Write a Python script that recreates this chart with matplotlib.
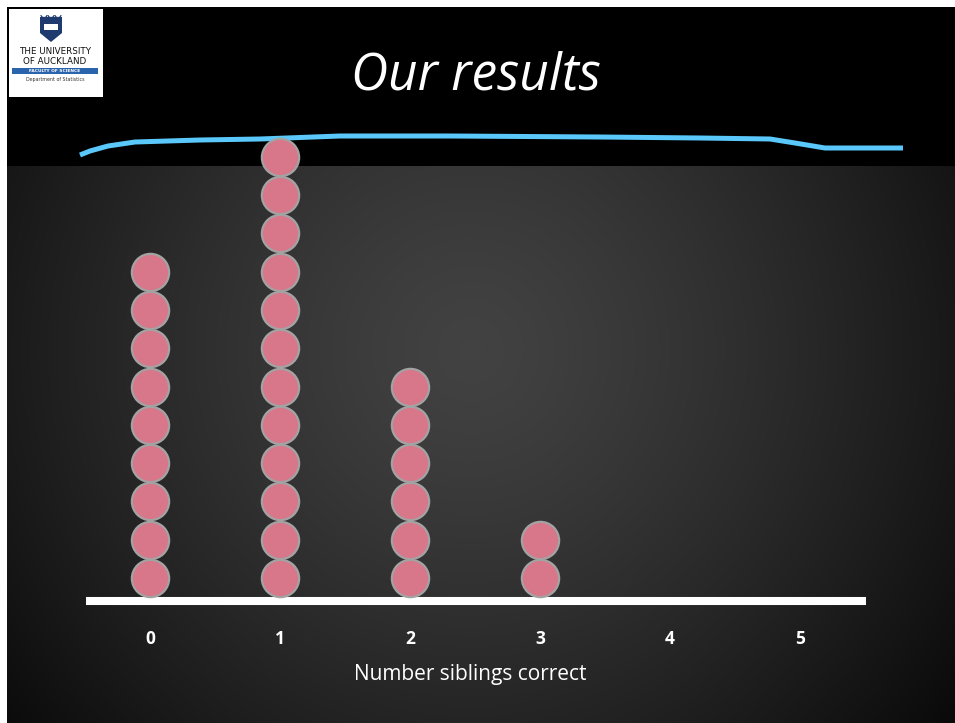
import numpy as np
import matplotlib.pyplot as plt
from matplotlib.patches import Rectangle, Polygon, Arc

# dot plot data: how many people got each number of siblings correct
scores = [0, 1, 2, 3, 4, 5]
counts = [9, 12, 6, 2, 0, 0]
tick_labels = ["0", "1", "2", "3", "4", "5"]
xlabel = "Number siblings correct"
title = "Our results"

# hand-drawn underline under the title (pixel coords)
pen_x = [80, 90, 108, 135, 200, 260, 340, 450, 600, 700, 770, 795, 825, 860, 903]
pen_y = [155, 151, 146, 142, 140, 139, 136, 136, 137, 138, 139, 143, 148, 148, 148]

W, H = 955, 723
fig = plt.figure(figsize=(W / 100, H / 100), dpi=100, facecolor="white")

# slide background in pixel space
bg = fig.add_axes([0, 0, 1, 1])
bg.set_xlim(0, W)
bg.set_ylim(H, 0)
bg.axis("off")

yy, xx = np.mgrid[0:H - 7, 0:W - 7]
r = np.hypot(xx + 7 - 470, yy + 7 - 350)
shade = np.clip(0.26 - 0.20 * (r / 560) ** 1.3, 0.03, 0.27)
img = np.dstack([shade, shade, shade])
img[: 166 - 7] = 0.0
bg.imshow(img, extent=(7, W, H, 7), aspect="auto", interpolation="bilinear", zorder=0)

# logo block
bg.add_patch(Rectangle((9, 9), 94, 88, facecolor="white", edgecolor="none", zorder=2))
for cx in [44, 51, 58]:
    bg.add_patch(Arc((cx, 15), 6, 5, theta1=0, theta2=180, color="#1f3a6e", lw=0.8, zorder=4))
bg.add_patch(Polygon([[40, 17], [62, 17], [62, 33], [51, 42], [40, 33]],
                     closed=True, facecolor="#1f3a6e", edgecolor="none", zorder=3))
bg.add_patch(Rectangle((44, 24), 14, 6, facecolor="white", edgecolor="none", zorder=4))
bg.text(55, 51, "THE UNIVERSITY", ha="center", va="center", fontsize=6.3,
        family="DejaVu Sans", color="#111111", zorder=4)
bg.text(55, 61, "OF AUCKLAND", ha="center", va="center", fontsize=6.3,
        family="DejaVu Sans", color="#111111", zorder=4)
bg.add_patch(Rectangle((12, 67.5), 86, 6, facecolor="#2a64ad", edgecolor="none", zorder=3))
bg.text(55, 70.5, "FACULTY OF SCIENCE", ha="center", va="center", fontsize=3.2,
        color="white", weight="bold", zorder=4)
bg.text(55, 79, "Department of Statistics", ha="center", va="center", fontsize=3.4,
        color="#333333", zorder=4)

bg.text(476, 76, title, ha="center", va="center", fontsize=37, color="white",
        family="Open Sans", style="italic", zorder=3)
bg.plot(pen_x, pen_y, color="#5ac8fa", lw=3.6, solid_capstyle="butt", zorder=3)

# dot plot axes
spacing = 38.3
left_px, right_px, base_px, top_px = 86, 866, 601, 140
x0_px, step_px = 150, 130
ax = fig.add_axes([left_px / W, (H - base_px) / H, (right_px - left_px) / W,
                   (base_px - top_px) / H])
ax.patch.set_alpha(0)
ax.set_xlim((left_px - x0_px) / step_px, (right_px - x0_px) / step_px)
ax.set_ylim(-23 / spacing, -23 / spacing + (base_px - top_px) / spacing)

xs, ys = [], []
for s, c in zip(scores, counts):
    for k in range(c):
        xs.append(s)
        ys.append(k)
ax.scatter(xs, ys, s=720, facecolor="#d8768a", edgecolor="#a3a3a3",
           linewidth=1.6, zorder=3, clip_on=False)

for side in ["top", "left", "right"]:
    ax.spines[side].set_visible(False)
ax.spines["bottom"].set_color("white")
ax.spines["bottom"].set_linewidth(5.8)
ax.spines["bottom"].set_capstyle("butt")
ax.set_yticks([])
ax.set_xticks(scores)
ax.set_xticklabels(tick_labels, fontsize=12.5, weight="bold", color="white",
                   family="Open Sans")
ax.tick_params(axis="x", length=0, pad=21)
ax.set_xlabel(xlabel, fontsize=15, color="white", family="Open Sans")
ax.xaxis.set_label_coords((470 - left_px) / (right_px - left_px),
                          -(664 - base_px) / (base_px - top_px))

fig.savefig("out.png", dpi=100, facecolor=fig.get_facecolor())
